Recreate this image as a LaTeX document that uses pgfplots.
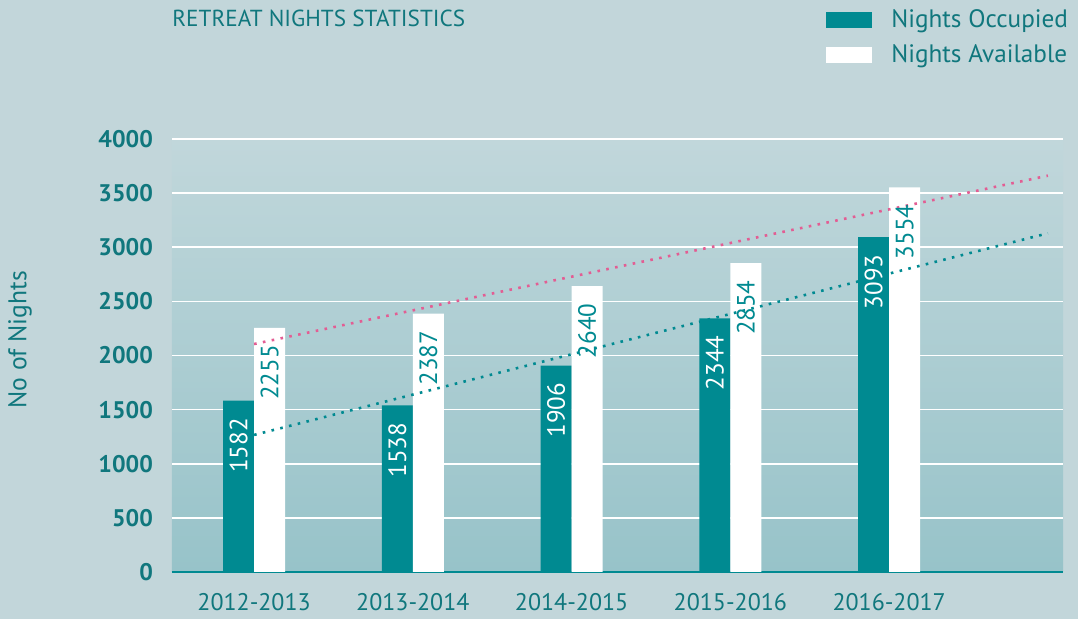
\documentclass[border=0pt]{standalone}
\usepackage{fontspec}
\setmainfont{PT Sans}
\usepackage{pgfplots}
\pgfplotsset{compat=1.18}
\definecolor{bg}{HTML}{C2D6DA}
\definecolor{plottop}{HTML}{C1D7DB}
\definecolor{plotbot}{HTML}{97C3C9}
\definecolor{barteal}{HTML}{008A91}
\definecolor{txt}{HTML}{10777D}
\definecolor{pinkl}{HTML}{E35D93}
\begin{document}
\begin{tikzpicture}
\fill[bg] (0,0) rectangle (539pt,309.5pt);
\useasboundingbox (0,0) rectangle (539pt,309.5pt);
\node[anchor=base west, text=txt, font=\fontsize{11.6}{13}\selectfont, inner sep=0pt] at (86pt,296.2pt) {RETREAT NIGHTS STATISTICS};
\begin{axis}[
  at={(86pt,23.5pt)}, anchor=south west,
  width=445.5pt, height=216.5pt, scale only axis,
  xmin=-0.517, xmax=5.095, ymin=0, ymax=4000,
  xtick={0,1,2,3,4},
  xticklabels={2012-2013,2013-2014,2014-2015,2015-2016,2016-2017},
  ytick={0,500,...,4000},
  axis x line*=bottom, axis y line*=left,
  y axis line style={draw=none},
  x axis line style={draw=barteal, line width=1pt, -},
  major tick length=0pt,
  ymajorgrids, grid style={white, line width=0.8pt},
  axis background/.style={top color=plottop, bottom color=plotbot},
  /pgf/number format/1000 sep={},
  /pgf/number format/assume math mode=true,
  yticklabel style={font=\fontsize{12}{14}\selectfont\bfseries, text=txt, xshift=-6pt},
  xticklabel style={font=\fontsize{12}{14}\selectfont, text=txt, yshift=-7pt},
  ylabel={No of Nights},
  ylabel style={font=\fontsize{12.8}{14}\selectfont, text=txt, at={(axis description cs:-0.1706,0.536)}, anchor=center},
  legend style={at={(0.734,1.31)}, anchor=north west, draw=none, fill=none,
    font=\fontsize{12.6}{14}\selectfont, text=txt, row sep=3pt, inner sep=0pt,
    /tikz/every odd column/.append style={column sep=7.5pt}},
  legend cell align=left,
]
\addplot[ybar, bar width=15.5pt, bar shift=-7.75pt, fill=barteal, draw=none,
  nodes near coords,
  every node near coord/.append style={xshift=-7.75pt, rotate=90, anchor=east, text=white, font=\fontsize{12.5}{14}\selectfont, inner xsep=8.5pt, inner ysep=0pt},
  legend image code/.code={\fill[barteal] (0pt,-4pt) rectangle (23pt,4pt);}]
  coordinates {(0,1582) (1,1538) (2,1906) (3,2344) (4,3093)};
\addlegendentry{Nights Occupied}
\addplot[ybar, bar width=15.5pt, bar shift=7.75pt, fill=white, draw=none,
  nodes near coords,
  every node near coord/.append style={xshift=7.75pt, rotate=90, anchor=east, text=barteal, font=\fontsize{12.5}{14}\selectfont, inner xsep=8.5pt, inner ysep=0pt},
  legend image code/.code={\fill[white] (0pt,-4pt) rectangle (23pt,4pt);}]
  coordinates {(0,2255) (1,2387) (2,2640) (3,2854) (4,3554)};
\addlegendentry{Nights Available}
\addplot[pinkl, line width=1.3pt, dash pattern=on 1.3pt off 3.2pt, forget plot]
  coordinates {(0,2106) (5,3661)};
\addplot[barteal, line width=1.3pt, dash pattern=on 1.3pt off 3.2pt, forget plot]
  coordinates {(0,1266) (5,3129)};
\end{axis}
\end{tikzpicture}
\end{document}
